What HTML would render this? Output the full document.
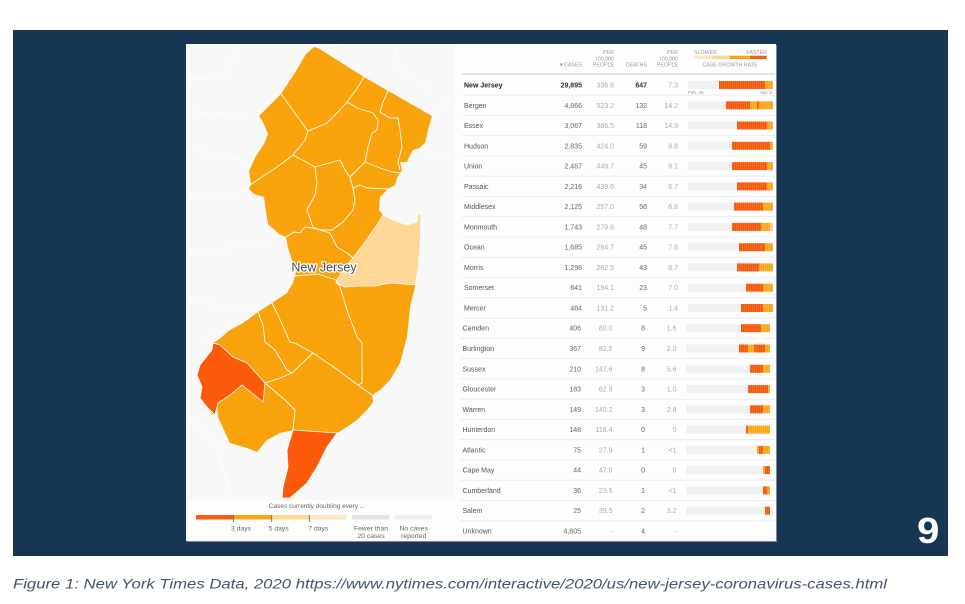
<!DOCTYPE html>
<html><head><meta charset="utf-8"><style>
html,body{margin:0;padding:0;background:#fff;}
svg{display:block;font-family:"Liberation Sans",sans-serif;}
.n{font-size:7px;fill:#555;}
.c{font-size:7px;fill:#666;text-anchor:end;}
.p{font-size:7px;fill:#aaa;text-anchor:end;}
.h{font-size:5.3px;fill:#999;text-anchor:end;}
.lg{font-size:6.8px;fill:#666;}
</style></head><body>
<svg width="965" height="604" viewBox="0 0 965 604" xmlns="http://www.w3.org/2000/svg">
<defs>
<pattern id="r" width="2" height="10" patternUnits="userSpaceOnUse"><rect width="2" height="10" fill="#f6560a"/><rect width="0.6" height="10" fill="#fb7a34"/></pattern>
<pattern id="o" width="2" height="10" patternUnits="userSpaceOnUse"><rect width="2" height="10" fill="#fba515"/><rect width="0.6" height="10" fill="#fcbb4a"/></pattern>
<pattern id="g" width="2" height="10" patternUnits="userSpaceOnUse"><rect width="2" height="10" fill="#efefef"/><rect width="0.6" height="10" fill="#f6f6f6"/></pattern>
</defs>
<rect x="0" y="0" width="965" height="604" fill="#fff"/>
<rect x="13" y="30" width="935" height="526" fill="#163654"/>
<!-- panel -->
<rect x="187" y="45" width="590" height="497" fill="#7d8a99"/>
<rect x="186" y="44" width="590" height="497" fill="#fdfdfd"/>
<rect x="187" y="45" width="268" height="455" fill="#f8f8f8"/>
<g stroke="#fff" stroke-width="0.8" fill="none">
<path d="M187,80 L228,78 L232,58 L240,45"/><path d="M190,112 L248,114"/><path d="M195,150 L250,162"/><path d="M188,200 L252,190"/><path d="M190,255 L268,240"/><path d="M187,300 L258,312"/><path d="M200,340 L243,322"/><path d="M190,420 L214,440 L230,490"/><path d="M432,116 L452,98"/><path d="M320,47 L340,45"/><path d="M420,150 L450,160"/><path d="M395,45 L400,70 L430,90"/>
</g>
<!-- NJ -->
<path fill="#f9a30c" d="M314,47 L318,48 L364,77 L432,116 L428,130 L425,143 L419,148 L413,150 L410,155 L407,162 L400,162 L402,170 L397,178 L395,185 L388,189 L380,197 L379,210 L383,215 L393,220 L407,225 L417,222 L418,213 L421,215 L421,223 L420,247 L418,270 L415,287 L413,295 L410,307 L407,337 L400,363 L390,380 L380,390 L372,395 L373,402 L367,410 L357,420 L347,427 L337,433 L327,447 L317,467 L307,483 L290,498 L282,498 L283,487 L288,467 L287,450 L293,430 L280,433 L267,440 L257,452 L247,448 L230,443 L218,417 L217,403 L213,415 L207,407 L200,398 L202,387 L197,375 L200,365 L212,350 L213,343 L218,340 L230,330 L243,323 L258,312 L272,303 L287,293 L293,283 L296,272 L292,260 L288,248 L286,237 L279,234 L268,224 L266,211 L264,197 L254,194 L249,189 L251,184 L249,171 L256,156 L264,144 L268,134 L263,122 L259,116 L274,101 L281,94 L296,71 L306,54 Z"/>
<path fill="#fcd797" stroke="#fff" stroke-width="0.8" d="M383,215 L393,220 L407,225 L417,222 L418,213 L421,215 L421,223 L420,247 L418,270 L415,285 L405,284 L390,283 L375,286 L360,286 L345,287 L336,283 L338,278 L345,268 L353,258 L362,246 L372,232 L379,222 Z"/>
<path fill="#fb5a0b" stroke="#fff" stroke-width="0.8" d="M213,343 L220,345 L233,357 L247,363 L265,383 L263,402 L242,385 L230,395 L218,403 L215,415 L207,407 L200,398 L202,387 L197,375 L200,365 L212,350 Z"/>
<path fill="#fb5a0b" stroke="#fff" stroke-width="0.8" d="M293,430 L337,433 L327,447 L317,467 L307,483 L290,498 L282,498 L283,487 L288,467 L287,450 Z"/>
<g stroke="#fff" stroke-width="0.9" fill="none" stroke-linejoin="round">
<path d="M281,94 L297,116 L308,131 L318,127 L327,123 L338,112 L347,102 L356,90 L364,77"/>
<path d="M347,102 L357,108 L373,113 L378,120 L377,130 L372,133"/>
<path d="M388,91 L383,102 L380,112 L390,118 L398,118 L400,130 L402,147"/>
<path d="M372,133 L368,147 L365,162"/>
<path d="M402,147 L398,162 L400,170"/>
<path d="M365,162 L380,168 L392,172 L400,173"/>
<path d="M308,131 L305,140 L293,155 L315,167 L340,160 L345,170 L350,177 L365,162"/>
<path d="M293,155 L277,167 L250,185"/>
<path d="M315,167 L317,183 L315,195 L307,210 L313,227 L320,230"/>
<path d="M350,177 L353,188 L360,185 L367,188 L388,189"/>
<path d="M353,188 L355,200 L353,210 L343,222 L332,230 L320,230"/>
<path d="M286,237 L294,232 L300,233 L305,227 L312,228 L320,230"/>
<path d="M320,230 L330,233 L337,247 L347,253 L353,258"/>
<path d="M294,276 L318,274 L336,280 L340,287"/>
<path d="M340,287 L348,313 L357,337 L362,343 L362,383 L358,385"/>
<path d="M358,385 L372,395"/>
<path d="M272,303 L277,313 L290,342 L295,343 L302,347 L313,353"/>
<path d="M258,312 L263,325 L265,342 L275,350 L287,370 L292,373"/>
<path d="M265,383 L280,378 L292,373 L313,353"/>
<path d="M313,353 L335,368 L358,385"/>
<path d="M265,383 L285,400 L295,410 L293,430"/>
</g>
<text x="324" y="271.5" font-size="12.5" text-anchor="middle" fill="#4a4a4a" stroke="#fff" stroke-width="2.5" paint-order="stroke" stroke-linejoin="round">New Jersey</text>
<!-- map legend -->
<text x="317" y="508" class="lg" style="text-anchor:middle;font-size:6.5px">Cases currently doubling every ...</text>
<rect x="196" y="515" width="37.3" height="4.5" fill="#fb5a0c"/>
<rect x="233.3" y="515" width="38.4" height="4.5" fill="#fca312"/>
<rect x="271.7" y="515" width="37.6" height="4.5" fill="#fdd796"/>
<rect x="309.3" y="515" width="37.4" height="4.5" fill="#fde6c8"/>
<rect x="352" y="515" width="37.3" height="4.5" fill="#e3e3e3"/>
<rect x="395" y="515" width="37" height="4.5" fill="#eeeeee"/>
<g stroke="#666" stroke-width="0.8"><line x1="233.5" y1="515" x2="233.5" y2="522"/><line x1="271.7" y1="515" x2="271.7" y2="522"/><line x1="309.3" y1="515" x2="309.3" y2="522"/></g>
<text x="231" y="530.5" class="lg">3 days</text>
<text x="268.7" y="530.5" class="lg">5 days</text>
<text x="308.3" y="530.5" class="lg">7 days</text>
<text x="371" y="530.5" class="lg" style="text-anchor:middle">Fewer than</text>
<text x="371" y="538" class="lg" style="text-anchor:middle">20 cases</text>
<text x="413.7" y="530.5" class="lg" style="text-anchor:middle">No cases</text>
<text x="413.7" y="538" class="lg" style="text-anchor:middle">reported</text>
<!-- table header -->
<text x="582" y="66.5" class="h">▼CASES</text>
<text x="614" y="54" class="h">PER</text><text x="614" y="60.5" class="h">100,000</text><text x="614" y="66.5" class="h">PEOPLE</text>
<text x="647" y="66.5" class="h">DEATHS</text>
<text x="678" y="54" class="h">PER</text><text x="678" y="60.5" class="h">100,000</text><text x="678" y="66.5" class="h">PEOPLE</text>
<text x="694" y="54" class="h" style="text-anchor:start">SLOWER</text>
<text x="767" y="54" class="h">FASTER</text>
<rect x="694" y="55.7" width="18.3" height="3.3" fill="#fce6c6"/>
<rect x="712.3" y="55.7" width="17.7" height="3.3" fill="#fcd59a"/>
<rect x="730" y="55.7" width="20" height="3.3" fill="#fca312"/>
<rect x="750" y="55.7" width="16.7" height="3.3" fill="#f85a0e"/>
<text x="730" y="66.5" class="h" style="text-anchor:middle">CASE GROWTH RATE</text>
<line x1="462" y1="74" x2="775" y2="74" stroke="#dcdcdc" stroke-width="1.4"/>
<g stroke="#e8e8e8" stroke-width="0.8">
<line x1="462" y1="95.1" x2="775" y2="95.1"/><line x1="462" y1="115.4" x2="775" y2="115.4"/><line x1="462" y1="135.6" x2="775" y2="135.6"/><line x1="462" y1="155.9" x2="775" y2="155.9"/><line x1="462" y1="176.2" x2="775" y2="176.2"/><line x1="462" y1="196.5" x2="775" y2="196.5"/><line x1="462" y1="216.7" x2="775" y2="216.7"/><line x1="462" y1="237" x2="775" y2="237"/><line x1="462" y1="257.3" x2="775" y2="257.3"/><line x1="462" y1="277.5" x2="775" y2="277.5"/><line x1="462" y1="297.8" x2="775" y2="297.8"/><line x1="462" y1="318.1" x2="775" y2="318.1"/><line x1="460" y1="338.3" x2="775" y2="338.3"/><line x1="460" y1="358.6" x2="775" y2="358.6"/><line x1="460" y1="378.9" x2="775" y2="378.9"/><line x1="460" y1="399.2" x2="775" y2="399.2"/><line x1="460" y1="419.4" x2="775" y2="419.4"/><line x1="460" y1="439.7" x2="775" y2="439.7"/><line x1="460" y1="460" x2="775" y2="460"/><line x1="460" y1="480.2" x2="775" y2="480.2"/><line x1="460" y1="500.5" x2="775" y2="500.5"/><line x1="460" y1="520.8" x2="775" y2="520.8"/>
</g>
<!-- rows -->
<g transform="translate(0,85)"><text x="464" y="2.5" class="n" style="fill:#222;font-weight:bold">New Jersey</text><text x="582" y="2.5" class="c" style="fill:#333;font-weight:bold">29,895</text><text x="614" y="2.5" class="p">336.6</text><text x="647" y="2.5" class="c" style="fill:#333;font-weight:bold">647</text><text x="678" y="2.5" class="p">7.3</text><rect x="688" y="-4" width="85" height="8" fill="url(#g)"/><rect x="719" y="-4" width="46" height="8" fill="url(#r)"/><rect x="765" y="-4" width="8" height="8" fill="url(#o)"/><text x="688" y="9" font-size="4.6" fill="#999">Feb. 26</text><text x="772" y="9" font-size="4.6" fill="#999" text-anchor="end">Apr. 3</text></g>
<g transform="translate(0,105.3)"><text x="464" y="2.5" class="n">Bergen</text><text x="582" y="2.5" class="c">4,866</text><text x="614" y="2.5" class="p">523.2</text><text x="647" y="2.5" class="c">132</text><text x="678" y="2.5" class="p">14.2</text><rect x="688" y="-4" width="85" height="8" fill="url(#g)"/><rect x="726" y="-4" width="24" height="8" fill="url(#r)"/><rect x="750" y="-4" width="7" height="8" fill="url(#o)"/><rect x="757" y="-4" width="2" height="8" fill="url(#r)"/><rect x="759" y="-4" width="14" height="8" fill="url(#o)"/></g>
<g transform="translate(0,125.5)"><text x="464" y="2.5" class="n">Essex</text><text x="582" y="2.5" class="c">3,067</text><text x="614" y="2.5" class="p">386.5</text><text x="647" y="2.5" class="c">118</text><text x="678" y="2.5" class="p">14.9</text><rect x="688" y="-4" width="85" height="8" fill="url(#g)"/><rect x="737" y="-4" width="30" height="8" fill="url(#r)"/><rect x="767" y="-4" width="6" height="8" fill="url(#o)"/></g>
<g transform="translate(0,145.8)"><text x="464" y="2.5" class="n">Hudson</text><text x="582" y="2.5" class="c">2,835</text><text x="614" y="2.5" class="p">424.0</text><text x="647" y="2.5" class="c">59</text><text x="678" y="2.5" class="p">8.8</text><rect x="688" y="-4" width="85" height="8" fill="url(#g)"/><rect x="732" y="-4" width="38" height="8" fill="url(#r)"/><rect x="770" y="-4" width="3" height="8" fill="url(#o)"/></g>
<g transform="translate(0,166.1)"><text x="464" y="2.5" class="n">Union</text><text x="582" y="2.5" class="c">2,487</text><text x="614" y="2.5" class="p">449.7</text><text x="647" y="2.5" class="c">45</text><text x="678" y="2.5" class="p">8.1</text><rect x="688" y="-4" width="85" height="8" fill="url(#g)"/><rect x="732" y="-4" width="35" height="8" fill="url(#r)"/><rect x="767" y="-4" width="6" height="8" fill="url(#o)"/></g>
<g transform="translate(0,186.4)"><text x="464" y="2.5" class="n">Passaic</text><text x="582" y="2.5" class="c">2,216</text><text x="614" y="2.5" class="p">439.6</text><text x="647" y="2.5" class="c">34</text><text x="678" y="2.5" class="p">6.7</text><rect x="688" y="-4" width="85" height="8" fill="url(#g)"/><rect x="737" y="-4" width="30" height="8" fill="url(#r)"/><rect x="767" y="-4" width="6" height="8" fill="url(#o)"/></g>
<g transform="translate(0,206.6)"><text x="464" y="2.5" class="n">Middlesex</text><text x="582" y="2.5" class="c">2,125</text><text x="614" y="2.5" class="p">257.0</text><text x="647" y="2.5" class="c">56</text><text x="678" y="2.5" class="p">6.8</text><rect x="688" y="-4" width="85" height="8" fill="url(#g)"/><rect x="734" y="-4" width="29" height="8" fill="url(#r)"/><rect x="763" y="-4" width="10" height="8" fill="url(#o)"/></g>
<g transform="translate(0,226.9)"><text x="464" y="2.5" class="n">Monmouth</text><text x="582" y="2.5" class="c">1,743</text><text x="614" y="2.5" class="p">279.6</text><text x="647" y="2.5" class="c">48</text><text x="678" y="2.5" class="p">7.7</text><rect x="688" y="-4" width="85" height="8" fill="url(#g)"/><rect x="732" y="-4" width="29" height="8" fill="url(#r)"/><rect x="761" y="-4" width="9" height="8" fill="url(#o)"/><rect x="770" y="-4" width="3" height="8" fill="#fcd08a"/></g>
<g transform="translate(0,247.2)"><text x="464" y="2.5" class="n">Ocean</text><text x="582" y="2.5" class="c">1,685</text><text x="614" y="2.5" class="p">284.7</text><text x="647" y="2.5" class="c">45</text><text x="678" y="2.5" class="p">7.6</text><rect x="688" y="-4" width="85" height="8" fill="url(#g)"/><rect x="739" y="-4" width="26" height="8" fill="url(#r)"/><rect x="765" y="-4" width="8" height="8" fill="url(#o)"/></g>
<g transform="translate(0,267.4)"><text x="464" y="2.5" class="n">Morris</text><text x="582" y="2.5" class="c">1,298</text><text x="614" y="2.5" class="p">262.5</text><text x="647" y="2.5" class="c">43</text><text x="678" y="2.5" class="p">8.7</text><rect x="688" y="-4" width="85" height="8" fill="url(#g)"/><rect x="737" y="-4" width="22" height="8" fill="url(#r)"/><rect x="759" y="-4" width="14" height="8" fill="url(#o)"/></g>
<g transform="translate(0,287.7)"><text x="464" y="2.5" class="n">Somerset</text><text x="582" y="2.5" class="c">641</text><text x="614" y="2.5" class="p">194.1</text><text x="647" y="2.5" class="c">23</text><text x="678" y="2.5" class="p">7.0</text><rect x="688" y="-4" width="85" height="8" fill="url(#g)"/><rect x="746" y="-4" width="17" height="8" fill="url(#r)"/><rect x="763" y="-4" width="10" height="8" fill="url(#o)"/></g>
<g transform="translate(0,308)"><text x="464" y="2.5" class="n">Mercer</text><text x="582" y="2.5" class="c">484</text><text x="614" y="2.5" class="p">131.2</text><text x="647" y="2.5" class="c">5</text><text x="678" y="2.5" class="p">1.4</text><rect x="688" y="-4" width="85" height="8" fill="url(#g)"/><rect x="741" y="-4" width="22" height="8" fill="url(#r)"/><rect x="763" y="-4" width="10" height="8" fill="url(#o)"/></g>
<g transform="translate(0,328.2)"><text x="462.5" y="2.5" class="n">Camden</text><text x="581" y="2.5" class="c">406</text><text x="612.5" y="2.5" class="p">80.0</text><text x="645" y="2.5" class="c">8</text><text x="676.5" y="2.5" class="p">1.6</text><rect x="686" y="-4" width="84" height="8" fill="url(#g)"/><rect x="741" y="-4" width="20" height="8" fill="url(#r)"/><rect x="761" y="-4" width="9" height="8" fill="url(#o)"/></g>
<g transform="translate(0,348.5)"><text x="462.5" y="2.5" class="n">Burlington</text><text x="581" y="2.5" class="c">367</text><text x="612.5" y="2.5" class="p">82.2</text><text x="645" y="2.5" class="c">9</text><text x="676.5" y="2.5" class="p">2.0</text><rect x="686" y="-4" width="84" height="8" fill="url(#g)"/><rect x="739" y="-4" width="9" height="8" fill="url(#r)"/><rect x="748" y="-4" width="6" height="8" fill="url(#o)"/><rect x="754" y="-4" width="11" height="8" fill="url(#r)"/><rect x="765" y="-4" width="5" height="8" fill="url(#o)"/></g>
<g transform="translate(0,368.8)"><text x="462.5" y="2.5" class="n">Sussex</text><text x="581" y="2.5" class="c">210</text><text x="612.5" y="2.5" class="p">147.6</text><text x="645" y="2.5" class="c">8</text><text x="676.5" y="2.5" class="p">5.6</text><rect x="686" y="-4" width="84" height="8" fill="url(#g)"/><rect x="750" y="-4" width="13" height="8" fill="url(#r)"/><rect x="763" y="-4" width="7" height="8" fill="url(#o)"/></g>
<g transform="translate(0,389.1)"><text x="462.5" y="2.5" class="n">Gloucester</text><text x="581" y="2.5" class="c">183</text><text x="612.5" y="2.5" class="p">62.9</text><text x="645" y="2.5" class="c">3</text><text x="676.5" y="2.5" class="p">1.0</text><rect x="686" y="-4" width="84" height="8" fill="url(#g)"/><rect x="748" y="-4" width="20" height="8" fill="url(#r)"/><rect x="768" y="-4" width="2" height="8" fill="url(#o)"/></g>
<g transform="translate(0,409.3)"><text x="462.5" y="2.5" class="n">Warren</text><text x="581" y="2.5" class="c">149</text><text x="612.5" y="2.5" class="p">140.2</text><text x="645" y="2.5" class="c">3</text><text x="676.5" y="2.5" class="p">2.8</text><rect x="686" y="-4" width="84" height="8" fill="url(#g)"/><rect x="750" y="-4" width="13" height="8" fill="url(#r)"/><rect x="763" y="-4" width="7" height="8" fill="url(#o)"/></g>
<g transform="translate(0,429.6)"><text x="462.5" y="2.5" class="n">Hunterdon</text><text x="581" y="2.5" class="c">148</text><text x="612.5" y="2.5" class="p">118.4</text><text x="645" y="2.5" class="c">0</text><text x="676.5" y="2.5" class="p">0</text><rect x="686" y="-4" width="84" height="8" fill="url(#g)"/><rect x="746" y="-4" width="2" height="8" fill="url(#r)"/><rect x="748" y="-4" width="22" height="8" fill="url(#o)"/></g>
<g transform="translate(0,449.9)"><text x="462.5" y="2.5" class="n">Atlantic</text><text x="581" y="2.5" class="c">75</text><text x="612.5" y="2.5" class="p">27.9</text><text x="645" y="2.5" class="c">1</text><text x="676.5" y="2.5" class="p">&lt;1</text><rect x="686" y="-4" width="84" height="8" fill="url(#g)"/><rect x="757" y="-4" width="2" height="8" fill="url(#o)"/><rect x="759" y="-4" width="4" height="8" fill="url(#r)"/><rect x="763" y="-4" width="7" height="8" fill="url(#o)"/></g>
<g transform="translate(0,470.1)"><text x="462.5" y="2.5" class="n">Cape May</text><text x="581" y="2.5" class="c">44</text><text x="612.5" y="2.5" class="p">47.0</text><text x="645" y="2.5" class="c">0</text><text x="676.5" y="2.5" class="p">0</text><rect x="686" y="-4" width="84" height="8" fill="url(#g)"/><rect x="763" y="-4" width="2" height="8" fill="url(#o)"/><rect x="765" y="-4" width="5" height="8" fill="url(#r)"/></g>
<g transform="translate(0,490.4)"><text x="462.5" y="2.5" class="n">Cumberland</text><text x="581" y="2.5" class="c">36</text><text x="612.5" y="2.5" class="p">23.5</text><text x="645" y="2.5" class="c">1</text><text x="676.5" y="2.5" class="p">&lt;1</text><rect x="686" y="-4" width="84" height="8" fill="url(#g)"/><rect x="763" y="-4" width="4" height="8" fill="url(#r)"/><rect x="767" y="-4" width="3" height="8" fill="url(#o)"/></g>
<g transform="translate(0,510.7)"><text x="462.5" y="2.5" class="n">Salem</text><text x="581" y="2.5" class="c">25</text><text x="612.5" y="2.5" class="p">39.5</text><text x="645" y="2.5" class="c">2</text><text x="676.5" y="2.5" class="p">3.2</text><rect x="686" y="-4" width="84" height="8" fill="url(#g)"/><rect x="765" y="-4" width="5" height="8" fill="url(#r)"/></g>
<g transform="translate(0,530.9)"><text x="462.5" y="2.5" class="n">Unknown</text><text x="581" y="2.5" class="c">4,805</text><text x="612.5" y="2.5" class="p">-</text><text x="645" y="2.5" class="c">4</text><text x="676.5" y="2.5" class="p">-</text></g>
<!-- slide number -->
<text transform="translate(917,543) scale(1.12,1)" font-size="36" font-weight="bold" fill="#fff">9</text>
<!-- caption -->
<text x="13" y="588.5" font-size="14" font-style="italic" fill="#44546a" textLength="874" lengthAdjust="spacingAndGlyphs">Figure 1: New York Times Data, 2020 https://www.nytimes.com/interactive/2020/us/new-jersey-coronavirus-cases.html</text>
</svg>
</body></html>
